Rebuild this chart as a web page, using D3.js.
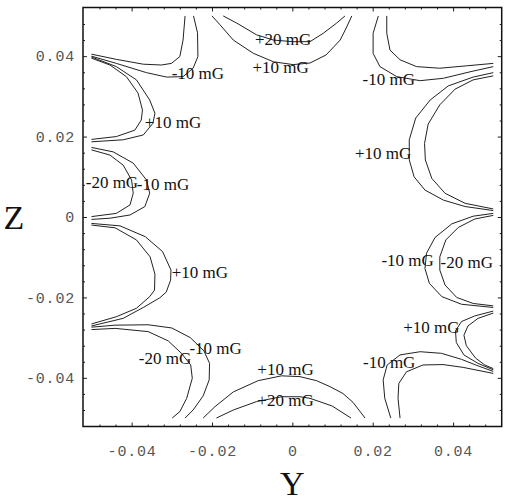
<!DOCTYPE html>
<html>
<head>
<meta charset="utf-8">
<script src="https://cdn.jsdelivr.net/npm/d3@7"></script>
<style>
  html, body { margin: 0; padding: 0; background: #fff; }
</style>
</head>
<body>
<svg id="chart" width="507" height="501"></svg>
<script>
// contour lines of the field, [Y, Z] pairs
const topPlus10 = [[-0.0200,0.05],[-0.0180,0.0478],[-0.0147,0.0440],[-0.0097,0.0407],[-0.0047,0.0386],[0.0002,0.0379],[0.0044,0.0383],[0.0084,0.0403],[0.0119,0.0440],[0.0134,0.0470],[0.0148,0.05]]
const topPlus20 = [[-0.0172,0.05],[-0.0138,0.0482],[-0.0089,0.0453],[-0.0047,0.0440],[0.0002,0.0436],[0.0044,0.0436],[0.0077,0.0457],[0.0110,0.0482],[0.0131,0.05]]
const bottomPlus10 = [[-0.0222,-0.05],[-0.0193,-0.0472],[-0.0147,-0.0435],[-0.0085,-0.0407],[-0.0027,-0.0395],[0.0019,-0.0397],[0.0060,-0.0407],[0.0094,-0.0422],[0.0126,-0.0439],[0.0151,-0.0461],[0.0181,-0.05]]
const bottomPlus20 = [[-0.0189,-0.05],[-0.0147,-0.0480],[-0.0089,-0.0459],[-0.0027,-0.0447],[0.0019,-0.0447],[0.0044,-0.0451],[0.0099,-0.0470],[0.0146,-0.05]]

const cornerTLMinus20 = [[-0.0267,0.05],[-0.0272,0.0440],[-0.0280,0.0399],[-0.0301,0.0382],[-0.0326,0.0378],[-0.0371,0.0380],[-0.0438,0.0392],[-0.05,0.0405]]
const cornerTLMinus10 = [[-0.0246,0.05],[-0.0236,0.0458],[-0.0235,0.0399],[-0.0247,0.0370],[-0.0272,0.0349],[-0.0313,0.0348],[-0.0363,0.0359],[-0.0438,0.0382],[-0.05,0.0400]]
const cornerTRMinus10 = [[0.0214,0.05],[0.0201,0.0457],[0.0201,0.0407],[0.0218,0.0374],[0.0260,0.0349],[0.0318,0.0339],[0.0376,0.0345],[0.0442,0.0361],[0.05,0.0374]]
const cornerTRMinus20 = [[0.0235,0.05],[0.0235,0.0457],[0.0243,0.0415],[0.0268,0.0391],[0.0309,0.0374],[0.0367,0.0370],[0.0434,0.0376],[0.05,0.0382]]
const cornerBLMinus10 = [[-0.05,-0.0274],[-0.0441,-0.0269],[-0.0359,-0.0268],[-0.0300,-0.0276],[-0.0254,-0.0300],[-0.0220,-0.0333],[-0.0206,-0.0364],[-0.0207,-0.0405],[-0.0222,-0.0445],[-0.0247,-0.0480],[-0.0267,-0.05]]
const cornerBLMinus20 = [[-0.05,-0.0280],[-0.0441,-0.0277],[-0.0359,-0.0285],[-0.0309,-0.0308],[-0.0276,-0.0339],[-0.0253,-0.0368],[-0.0249,-0.0401],[-0.0263,-0.0451],[-0.0280,-0.0484],[-0.0299,-0.05]]
const cornerBRMinus10 = [[0.0245,-0.05],[0.0230,-0.0451],[0.0226,-0.0405],[0.0236,-0.0368],[0.0268,-0.0343],[0.0318,-0.0335],[0.0371,-0.0339],[0.0421,-0.0354],[0.0459,-0.0369],[0.05,-0.0384]]
const cornerBRMinus20 = [[0.0268,-0.05],[0.0263,-0.0451],[0.0265,-0.0414],[0.0284,-0.0385],[0.0325,-0.0368],[0.0375,-0.0367],[0.0425,-0.0374],[0.05,-0.0389]]

const leftUpperPlus10 = [[-0.05,0.0398],[-0.0438,0.0374],[-0.0388,0.0341],[-0.0355,0.0291],[-0.0342,0.0258],[-0.0347,0.0233],[-0.0371,0.0204],[-0.0421,0.0192],[-0.05,0.0187]]
const leftUpperPlus20 = [[-0.05,0.0395],[-0.0454,0.0378],[-0.0413,0.0349],[-0.0384,0.0308],[-0.0373,0.0266],[-0.0376,0.0241],[-0.0392,0.0216],[-0.0438,0.0200],[-0.05,0.0193]]
const leftMidMinus10 = [[-0.05,0.0173],[-0.0446,0.0162],[-0.0396,0.0134],[-0.0363,0.0092],[-0.0355,0.0059],[-0.0367,0.0026],[-0.0404,0.0005],[-0.0454,-0.0003],[-0.05,-0.0006]]
const leftMidMinus20 = [[-0.05,0.0167],[-0.0454,0.0154],[-0.0421,0.0129],[-0.0400,0.0092],[-0.0396,0.0059],[-0.0404,0.0030],[-0.0438,0.0009],[-0.05,0.0001]]
const leftLowerPlus10 = [[-0.05,-0.0016],[-0.0429,-0.0022],[-0.0366,-0.0049],[-0.0323,-0.0086],[-0.0302,-0.0132],[-0.0303,-0.0157],[-0.0314,-0.0187],[-0.0330,-0.0201],[-0.0371,-0.0225],[-0.0421,-0.0252],[-0.05,-0.0271]]
const leftLowerPlus20 = [[-0.05,-0.0020],[-0.0441,-0.0027],[-0.0388,-0.0057],[-0.0354,-0.0099],[-0.0342,-0.0142],[-0.0343,-0.0182],[-0.0355,-0.0198],[-0.0388,-0.0227],[-0.0438,-0.0248],[-0.05,-0.0266]]

const rightUpperPlus10 = [[0.05,0.0359],[0.0450,0.0348],[0.0388,0.0326],[0.0343,0.0291],[0.0307,0.0246],[0.0291,0.0192],[0.0291,0.0142],[0.0303,0.0100],[0.0330,0.0067],[0.0376,0.0042],[0.0430,0.0026],[0.05,0.0016]]
const rightUpperPlus20 = [[0.05,0.0351],[0.0450,0.0341],[0.0405,0.0318],[0.0367,0.0279],[0.0338,0.0231],[0.0329,0.0183],[0.0331,0.0142],[0.0347,0.0096],[0.0380,0.0059],[0.0430,0.0034],[0.05,0.0020]]
const rightMidMinus10 = [[0.05,0.0009],[0.0450,0.0002],[0.0397,-0.0017],[0.0355,-0.0051],[0.0334,-0.0090],[0.0330,-0.0128],[0.0341,-0.0165],[0.0372,-0.0198],[0.0421,-0.0217],[0.05,-0.0225]]
const rightMidMinus20 = [[0.05,0.0004],[0.0454,-0.0005],[0.0413,-0.0026],[0.0382,-0.0057],[0.0367,-0.0099],[0.0367,-0.0132],[0.0380,-0.0169],[0.0409,-0.0200],[0.0450,-0.0215],[0.05,-0.0221]]
const rightLowerPlus10 = [[0.05,-0.0234],[0.0454,-0.0246],[0.0421,-0.0260],[0.0406,-0.0283],[0.0408,-0.0312],[0.0427,-0.0343],[0.0462,-0.0364],[0.05,-0.0380]]
const rightLowerPlus20 = [[0.05,-0.0239],[0.0462,-0.0252],[0.0437,-0.0271],[0.0427,-0.0294],[0.0433,-0.0320],[0.0456,-0.0351],[0.0479,-0.0368],[0.05,-0.0377]]

const contourLines = [
  topPlus10, topPlus20, bottomPlus10, bottomPlus20,
  cornerTLMinus20, cornerTLMinus10, cornerTRMinus10, cornerTRMinus20,
  cornerBLMinus10, cornerBLMinus20, cornerBRMinus10, cornerBRMinus20,
  leftUpperPlus10, leftUpperPlus20, leftMidMinus10, leftMidMinus20,
  leftLowerPlus10, leftLowerPlus20,
  rightUpperPlus10, rightUpperPlus20, rightMidMinus10, rightMidMinus20,
  rightLowerPlus10, rightLowerPlus20,
]

// contour labels: text, Y, Z (centre of the label)
const labelTexts = ['+20 mG','+10 mG','-10 mG','+10 mG','-20 mG','-10 mG','+10 mG','-20 mG','-10 mG','+10 mG','+20 mG','-10 mG','+10 mG','-10 mG','-20 mG','+10 mG','-10 mG']
const labelY = [-0.0023,-0.0029,-0.0235,-0.0297,-0.0449,-0.0322,-0.0230,-0.0317,-0.0191,-0.0017,-0.0017,0.0241,0.0346,0.0287,0.0434,0.0226,0.0240]
const labelZ = [0.0443,0.0372,0.0359,0.0236,0.0088,0.0081,-0.0137,-0.0351,-0.0327,-0.0379,-0.0454,-0.0360,-0.0274,-0.0107,-0.0111,0.0159,0.0343]

const majorTicks = [-0.04, -0.02, 0, 0.02, 0.04]
const minorTicks = [-0.048,-0.044,-0.036,-0.032,-0.028,-0.024,-0.016,-0.012,-0.008,-0.004,0.004,0.008,0.012,0.016,0.024,0.028,0.032,0.036,0.044,0.048]
const tickText = ['-0.04', '-0.02', '0', '0.02', '0.04']
const extent = [-0.0521, 0.0521]

function render(node) {
  const width = 507
  const height = 501
  const margin = { top: 7.5, right: 5.3, bottom: 74.5, left: 83 }
  const chartWidth = width - margin.left - margin.right
  const chartHeight = height - margin.top - margin.bottom

  const svg = d3.select(node)
  svg.append('rect')
    .attr('width', width).attr('height', height).attr('fill', '#fff')

  const viz = svg.append('g')
    .attr('id', 'viz')
    .attr('transform', `translate(${margin.left},${margin.top})`)

  const x = d3.scaleLinear(extent, [0, chartWidth])
  const y = d3.scaleLinear(extent, [chartHeight, 0])

  const fmt = (d) => tickText[majorTicks.indexOf(d)]
  const noText = (g) => g.call((s) => s.select('.domain').remove()).selectAll('text').remove()

  // major ticks with labels (bottom, left), inward
  viz.append('g')
    .attr('transform', `translate(0,${chartHeight})`)
    .call(d3.axisBottom(x).tickValues(majorTicks).tickFormat(fmt).tickSizeInner(-4).tickSizeOuter(0).tickPadding(19))
    .call((g) => g.select('.domain').remove())
    .call((g) => g.selectAll('text')
      .attr('font-family', '"Liberation Mono", monospace')
      .attr('font-size', 15)
      .attr('letter-spacing', 0.8)
      .attr('fill', '#555'))

  viz.append('g')
    .call(d3.axisLeft(y).tickValues(majorTicks).tickFormat(fmt).tickSizeInner(-4).tickSizeOuter(0).tickPadding(8))
    .call((g) => g.select('.domain').remove())
    .call((g) => g.selectAll('text')
      .attr('font-family', '"Liberation Mono", monospace')
      .attr('font-size', 15)
      .attr('letter-spacing', 0.8)
      .attr('fill', '#555'))

  // top / right major ticks, and minor ticks on all sides
  viz.append('g')
    .call(d3.axisTop(x).tickValues(majorTicks).tickSizeInner(-4).tickSizeOuter(0))
    .call(noText)
  viz.append('g')
    .attr('transform', `translate(${chartWidth},0)`)
    .call(d3.axisRight(y).tickValues(majorTicks).tickSizeInner(-4).tickSizeOuter(0))
    .call(noText)

  viz.append('g')
    .attr('transform', `translate(0,${chartHeight})`)
    .call(d3.axisBottom(x).tickValues(minorTicks).tickSizeInner(-2).tickSizeOuter(0))
    .call(noText)
  viz.append('g')
    .call(d3.axisTop(x).tickValues(minorTicks).tickSizeInner(-2).tickSizeOuter(0))
    .call(noText)
  viz.append('g')
    .call(d3.axisLeft(y).tickValues(minorTicks).tickSizeInner(-2).tickSizeOuter(0))
    .call(noText)
  viz.append('g')
    .attr('transform', `translate(${chartWidth},0)`)
    .call(d3.axisRight(y).tickValues(minorTicks).tickSizeInner(-2).tickSizeOuter(0))
    .call(noText)

  viz.selectAll('.tick line').attr('stroke', '#222')

  // frame
  viz.append('rect')
    .attr('width', chartWidth)
    .attr('height', chartHeight)
    .attr('fill', 'none')
    .attr('stroke', '#111')
    .attr('stroke-width', 1.5)

  // contour lines
  const line = d3.line().x((d) => x(d[0])).y((d) => y(d[1]))
  viz.append('g')
    .attr('id', 'contours')
    .attr('fill', 'none')
    .selectAll('path')
    .data(contourLines)
    .join('path')
    .attr('d', line)
    .attr('stroke', '#222')
    .attr('stroke-width', 1)

  // contour labels
  viz.append('g')
    .attr('id', 'labels')
    .selectAll('text')
    .data(labelTexts)
    .join('text')
    .attr('x', (d, i) => x(labelY[i]))
    .attr('y', (d, i) => y(labelZ[i]))
    .attr('dy', '0.35em')
    .attr('text-anchor', 'middle')
    .attr('font-family', '"Liberation Serif", "Times New Roman", serif')
    .attr('font-size', 17)
    .attr('fill', '#111')
    .text((d) => d)

  // axis titles
  svg.append('text')
    .attr('x', margin.left + x(0))
    .attr('y', 495)
    .attr('text-anchor', 'middle')
    .attr('font-family', '"Liberation Serif", "Times New Roman", serif')
    .attr('font-size', 34)
    .attr('fill', '#111')
    .text('Y')

  svg.append('text')
    .attr('x', 14)
    .attr('y', margin.top + y(0))
    .attr('dy', '0.35em')
    .attr('text-anchor', 'middle')
    .attr('font-family', '"Liberation Serif", "Times New Roman", serif')
    .attr('font-size', 34)
    .attr('fill', '#111')
    .text('Z')
}

render(document.getElementById('chart'))
</script>
</body>
</html>
